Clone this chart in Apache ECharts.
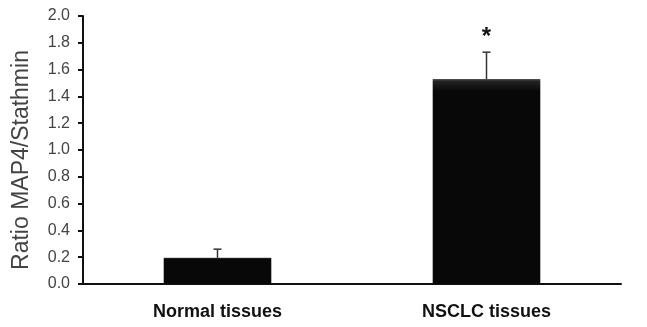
<!DOCTYPE html>
<html><head><meta charset="utf-8">
<script src="https://cdn.jsdelivr.net/npm/echarts@6/dist/echarts.min.js"></script>
<style>html,body{margin:0;padding:0;background:#fff}#c{width:647px;height:327px}</style>
</head><body><div id="c"></div>
<script>
const categories = ['Normal tissues', 'NSCLC tissues'];
const meanValues = [0.195, 1.53];
const errorTops = [0.26, 1.73];
const significance = ['', '*'];
const yTicks = [0, 0.2, 0.4, 0.6, 0.8, 1.0, 1.2, 1.4, 1.6, 1.8, 2.0];

const chart = echarts.init(document.getElementById('c'), null, {renderer: 'canvas'});
chart.setOption({
  animation: false,
  grid: {left: 83, right: 26, top: 16, bottom: 43, containLabel: false},
  xAxis: {
    type: 'category', data: categories,
    axisLine: {lineStyle: {color: '#111', width: 2}},
    axisTick: {show: false},
    axisLabel: {color: '#111', fontFamily: 'Liberation Sans, Arial', fontWeight: 'bold', fontSize: 18, margin: 19}
  },
  yAxis: {
    type: 'value', min: yTicks[0], max: yTicks[yTicks.length - 1], interval: 0.2,
    name: 'Ratio MAP4/Stathmin', nameLocation: 'middle', nameGap: 50,
    nameTextStyle: {color: '#444', fontFamily: 'Liberation Sans, Arial', fontSize: 23, padding: [0, 20, 0, 0]},
    axisLine: {show: true, lineStyle: {color: '#111', width: 2}},
    axisTick: {show: true, inside: false, length: 5, lineStyle: {color: '#111', width: 2}},
    splitLine: {show: false},
    axisLabel: {color: '#444', fontFamily: 'Liberation Sans, Arial', fontSize: 16, margin: 13,
      formatter: v => v.toFixed(1)}
  },
  series: [
    {
      type: 'bar', data: meanValues, barWidth: '40%',
      itemStyle: {color: {type: 'linear', x: 0, y: 0, x2: 0, y2: 1, colorStops: [
        {offset: 0, color: '#555'}, {offset: 0.012, color: '#222'}, {offset: 0.06, color: '#080808'}, {offset: 1, color: '#080808'}]},
        borderWidth: 0}
    },
    {
      type: 'custom',
      data: categories.map((c, i) => [i, meanValues[i], errorTops[i]]),
      renderItem: function (params, api) {
        const i = api.value(0);
        const base = api.coord([i, api.value(1)]);
        const top = api.coord([i, api.value(2)]);
        const cap = 4;
        const children = [
          {type: 'line', shape: {x1: base[0], y1: base[1], x2: top[0], y2: top[1]}, style: {stroke: '#333', lineWidth: 1.5}},
          {type: 'line', shape: {x1: top[0] - cap, y1: top[1], x2: top[0] + cap, y2: top[1]}, style: {stroke: '#333', lineWidth: 1.5}}
        ];
        const s = significance[params.dataIndex];
        if (s) {
          children.push({type: 'text', style: {text: s, x: top[0], y: top[1] - 3, align: 'center', verticalAlign: 'bottom',
            fill: '#111', font: 'bold 24px Liberation Sans, Arial'}});
        }
        return {type: 'group', children: children};
      },
      z: 5
    }
  ]
});
</script></body></html>
